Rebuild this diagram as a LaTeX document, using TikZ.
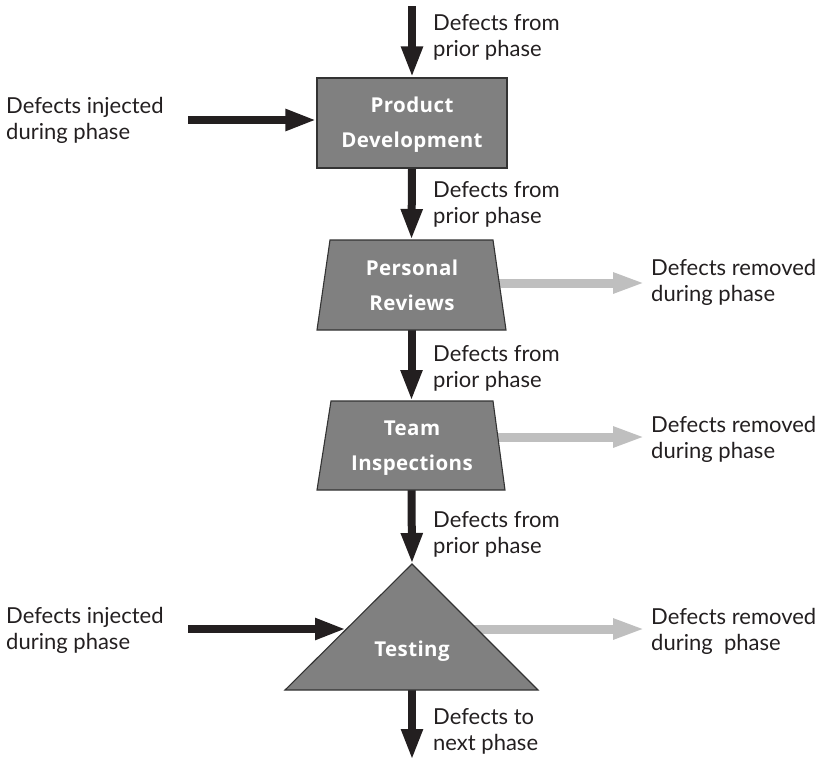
\documentclass[tikz,border=0pt]{standalone}
\usepackage{fontspec}
\setmainfont{Lato}
\newfontfamily\phasefont{Open Sans}[LetterSpace=2]
\usetikzlibrary{arrows.meta,backgrounds}

\definecolor{ink}{HTML}{231F20}
\definecolor{phasefill}{HTML}{808080}
\definecolor{edge}{HTML}{333333}
\definecolor{pale}{HTML}{BFBFBF}

\tikzset{
  flow/.style={draw=ink, line width=8pt, -{Triangle[length=31pt,width=20pt]}},
  removal/.style={draw=pale, line width=9pt, -{Triangle[length=32pt,width=19pt]}},
  phasebox/.style={draw=edge, fill=phasefill, line width=1.1pt},
  phasename/.style={text=white, font=\phasefont\bfseries\fontsize{20.5}{35}\selectfont,
    align=center, anchor=base, inner sep=0pt},
  note/.style={text=ink, font=\fontsize{22}{26}\selectfont,
    align=left, anchor=base west, inner sep=0pt},
}

\begin{document}
\begin{tikzpicture}[x=1pt,y=-1pt]
\useasboundingbox (0,0) rectangle (824,761);

% Product Development: rectangle
\node[phasebox, rectangle, minimum width=190pt, minimum height=90pt, inner sep=0pt]
  (pd) at (412,123) {};

% Personal Reviews: trapezium
\coordinate (prTop) at (411.5,240);
\coordinate (prBottom) at (411.5,330);
\path[phasebox] (330,240) -- (493,240) -- (506,330) -- (317,330) -- cycle;

% Team Inspections: trapezium
\coordinate (tiTop) at (411.5,401);
\coordinate (tiBottom) at (411.5,490);
\path[phasebox] (331,401) -- (493,401) -- (505,490) -- (317,490) -- cycle;

% Testing: triangle
\coordinate (tApex) at (412,564);
\coordinate (tLeft) at (285,690);
\coordinate (tRight) at (538,690);
\coordinate (tBase) at (412,690);
\path[phasebox] (tApex) -- (tRight) -- (tLeft) -- cycle;

% phase names (anchored on the last baseline)
\node[phasename] (pdName) at (412,147) {Product\\Development};
\node[phasename] (prName) at (412,310) {Personal\\Reviews};
\node[phasename] (tiName) at (412,470) {Team\\Inspections};
\node[phasename] (teName) at (412,656) {Testing};

% free ends of the flows
\coordinate (src) at (412,6);
\coordinate (sink) at (412,760);
\coordinate (inA) at (188,120);
\coordinate (inB) at (188,629);
\coordinate (tInB) at (346,629);
\coordinate (prOut) at (470,283);
\coordinate (tiOut) at (470,437);
\coordinate (tOutB) at (460,629);
\coordinate (outA) at (645,283);
\coordinate (outB) at (645,437);
\coordinate (outC) at (645,629);

\begin{scope}[on background layer]
  \draw[flow] (src) -- (pd.north);
  \draw[flow] (pd.south) -- (prTop);
  \draw[flow] (prBottom) -- (tiTop);
  \draw[flow] (tiBottom) -- (tApex);
  \draw[flow] (tBase) -- (sink);
  \draw[flow] (inA) -- (inA -| pd.west);
  \draw[flow] (inB) -- (tInB);
  \draw[removal] (prOut) -- (outA);
  \draw[removal] (tiOut) -- (outB);
  \draw[removal] (tOutB) -- (outC);
\end{scope}

% labels (anchored on the last baseline)
\node[note] (lbFrom1) at (433,56) {Defects from\\prior phase};
\node[note] (lbFrom2) at (433,223) {Defects from\\prior phase};
\node[note] (lbFrom3) at (433,387) {Defects from\\prior phase};
\node[note] (lbFrom4) at (433,553) {Defects from\\prior phase};
\node[note] (lbNext) at (433,750) {Defects to\\next phase};
\node[note] (lbInA) at (6,139) {Defects injected\\during phase};
\node[note] (lbInB) at (6,649) {Defects injected\\during phase};
\node[note] (lbOutA) at (651,301) {Defects removed\\during phase};
\node[note] (lbOutB) at (651,458) {Defects removed\\during phase};
\node[note] (lbOutC) at (651,650) {Defects removed\\during\ \ phase};
\end{tikzpicture}
\end{document}
